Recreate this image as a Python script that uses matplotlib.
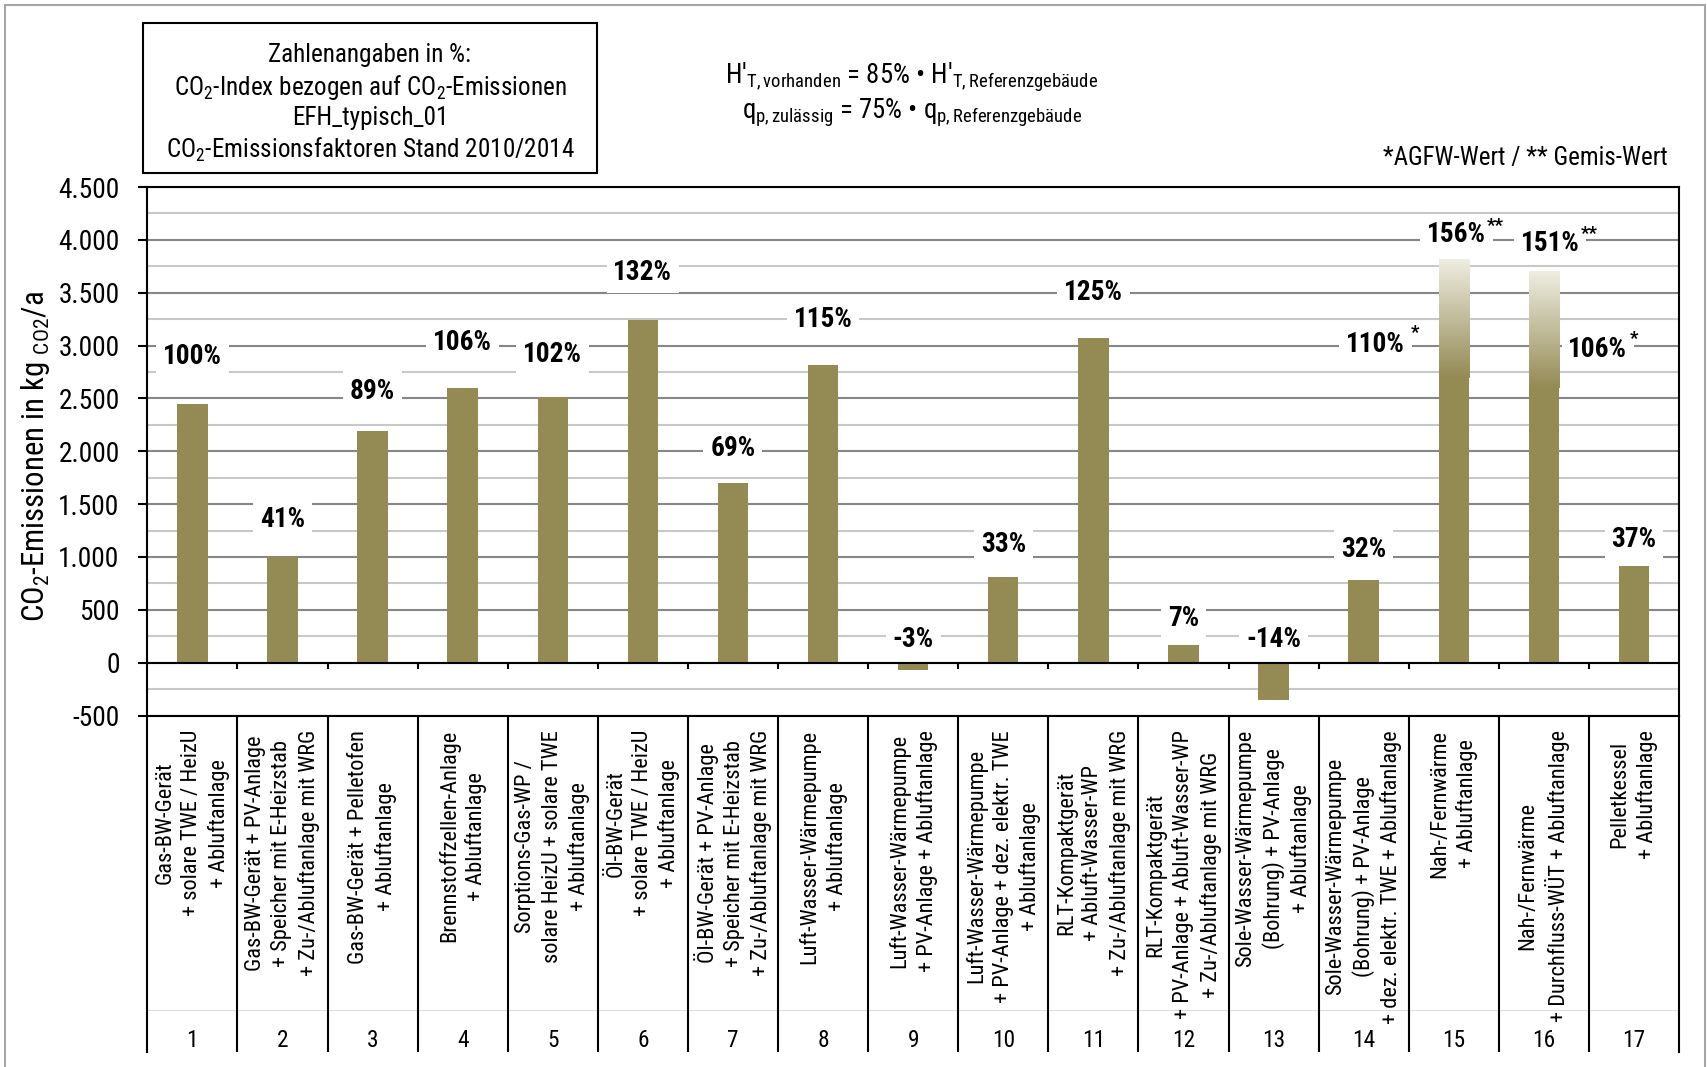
import numpy as np
import matplotlib.pyplot as plt
from matplotlib import font_manager
from matplotlib.colors import LinearSegmentedColormap
from matplotlib.font_manager import FontProperties
from matplotlib.patches import Rectangle
from matplotlib.textpath import TextToPath

# --- data -------------------------------------------------------------
categories = [
    "Gas-BW-Gerät\n+ solare TWE / HeizU\n+ Abluftanlage",
    "Gas-BW-Gerät + PV-Anlage\n+ Speicher mit E-Heizstab\n+ Zu-/Abluftanlage mit WRG",
    "Gas-BW-Gerät + Pelletofen\n+ Abluftanlage",
    "Brennstoffzellen-Anlage\n+ Abluftanlage",
    "Sorptions-Gas-WP /\nsolare HeizU + solare TWE\n+ Abluftanlage",
    "Öl-BW-Gerät\n+ solare TWE / HeizU\n+ Abluftanlage",
    "Öl-BW-Gerät + PV-Anlage\n+ Speicher mit E-Heizstab\n+ Zu-/Abluftanlage mit WRG",
    "Luft-Wasser-Wärmepumpe\n+ Abluftanlage",
    "Luft-Wasser-Wärmepumpe\n+ PV-Anlage + Abluftanlage",
    "Luft-Wasser-Wärmepumpe\n+ PV-Anlage + dez. elektr. TWE\n+ Abluftanlage",
    "RLT-Kompaktgerät\n+ Abluft-Wasser-WP\n+ Zu-/Abluftanlage mit WRG",
    "RLT-Kompaktgerät\n+ PV-Anlage + Abluft-Wasser-WP\n+ Zu-/Abluftanlage mit WRG",
    "Sole-Wasser-Wärmepumpe\n(Bohrung) + PV-Anlage\n+ Abluftanlage",
    "Sole-Wasser-Wärmepumpe\n(Bohrung) + PV-Anlage\n+ dez. elektr. TWE + Abluftanlage",
    "Nah-/Fernwärme\n+ Abluftanlage",
    "Nah-/Fernwärme\n+ Durchfluss-WÜT + Abluftanlage",
    "Pelletkessel\n+ Abluftanlage",
]
case_numbers = [str(i) for i in range(1, 18)]

# CO2 emissions in kg/a (Gemis values for district heating variants)
emissions = [2450, 1000, 2190, 2600, 2510, 3240, 1700, 2820, -70,
             810, 3070, 165, -350, 780, 3820, 3700, 915]
# AGFW values for the district heating variants (case 15 and 16)
agfw_cases = [15, 16]
agfw_emissions = [2695, 2600]

# where the percentage labels sit (data units)
label_y = [2925, 1380, 2595, 3060, 2945, 3720, 2050, 3275, 252,
           1145, 3530, 443, 245, 1100, 4076, 3997, 1190]
label_x_shift = {15: 0.03, 16: 0.07}
agfw_label_x = [14.13, 16.60]
agfw_label_y = [3043, 2988]
agfw_star_dx = [0.44, 0.40]

yticks = list(range(-500, 4501, 500))

# --- fonts ------------------------------------------------------------
available = {f.name for f in font_manager.fontManager.ttflist}
FONT = next((n for n in ["Roboto Condensed", "Liberation Sans Narrow", "Archivo Narrow",
                         "Liberation Sans"] if n in available), "DejaVu Sans")

# shrink sizes if the chosen face runs wider than a narrow Arial
sample = "Gas-BW-Gerät + Speicher mit E-Heizstab 100%"
ttp = TextToPath()
w_font = ttp.get_text_width_height_descent(sample, FontProperties(family=FONT, size=100), False)[0]
w_ref = ttp.get_text_width_height_descent(sample, FontProperties(family="Liberation Sans", size=100), False)[0]
SCALE = min(1.0, 0.82 * w_ref / w_font)


def fs(size):
    return size * SCALE


plt.rcParams["font.family"] = [FONT, "DejaVu Sans"]
plt.rcParams["mathtext.fontset"] = "custom"
plt.rcParams["mathtext.rm"] = FONT
plt.rcParams["mathtext.it"] = FONT
plt.rcParams["mathtext.bf"] = FONT + ":bold"

BAR = "#948A54"
LIGHT = "#EEEDE2"
W, H = 1708, 1067


def px_rect(x0, y0, x1, y1):
    return [x0 / W, 1 - y1 / H, (x1 - x0) / W, (y1 - y0) / H]


fig = plt.figure(figsize=(W / 100, H / 100), dpi=100)
ax = fig.add_axes(px_rect(147.3, 187, 1679, 715.5))
ax2 = fig.add_axes(px_rect(147.3, 715.5, 1679, 1052))

x = np.arange(1, len(emissions) + 1)
bar_w = 0.337

# --- bars -------------------------------------------------------------
solid = list(emissions)
for case, low in zip(agfw_cases, agfw_emissions):
    solid[case - 1] = low
ax.bar(x, solid, width=bar_w, color=BAR, zorder=2)

# upper part of the district heating bars fades out (Gemis above AGFW)
fade = LinearSegmentedColormap.from_list("fade", [BAR, LIGHT])
grad = np.linspace(0, 1, 256).reshape(-1, 1)
for case, low in zip(agfw_cases, agfw_emissions):
    ax.imshow(grad, extent=(case - bar_w / 2, case + bar_w / 2, low, emissions[case - 1]),
              origin="lower", cmap=fade, aspect="auto", interpolation="bicubic", zorder=2)

ax.set_xlim(0.5, len(emissions) + 0.5)
ax.set_ylim(-500, 4500)

# --- axes, grid -------------------------------------------------------
ax.set_yticks(yticks)
ax.set_yticklabels([f"{v:,}".replace(",", ".") for v in yticks])
ax.set_yticks(np.arange(-250, 4500, 500), minor=True)
ax.tick_params(axis="y", which="major", labelsize=fs(20.5), length=6.5, width=1.5, pad=13.5)
ax.tick_params(axis="y", which="minor", length=0)
ax.set_xticks([])
ax.set_axisbelow(True)
ax.grid(axis="y", which="major", color="#868686", lw=1.5)
ax.grid(axis="y", which="minor", color="#C8C8C8", lw=1.5)
for sp in ax.spines.values():
    sp.set_linewidth(1.5)
    sp.set_color("black")

ax.axhline(0, color="black", lw=1.5, zorder=3)
bounds = np.arange(1.5, len(emissions), 1.0)
ax.vlines(bounds, -63, 0, color="black", lw=1.5, zorder=3)

ax.set_ylabel(r"CO$_2$-Emissionen in kg $_{\mathrm{CO2}}$/a", fontsize=fs(23))
ax.yaxis.set_label_coords(-0.0625, 0.491)

# --- percentage labels ------------------------------------------------
base = emissions[0]
lbl_box = dict(facecolor="white", edgecolor="none", pad=5)
for i, v in enumerate(emissions):
    case = i + 1
    pct = round(v / base * 100)
    ax.text(case + label_x_shift.get(case, 0), label_y[i], f"{pct}%", ha="center",
            va="center_baseline", fontsize=fs(20.5), fontweight="bold", bbox=lbl_box, zorder=4)
    if case in agfw_cases:
        ax.text(case + label_x_shift[case] + 0.43, label_y[i] + 55, "**", ha="center",
                va="center", fontsize=fs(14), fontweight="bold", zorder=5)

for j, (lx, ly) in enumerate(zip(agfw_label_x, agfw_label_y)):
    pct = round(agfw_emissions[j] / base * 100)
    ax.text(lx, ly, f"{pct}%", ha="center", va="center_baseline", fontsize=fs(20.5),
            fontweight="bold", bbox=lbl_box, zorder=4)
    ax.text(lx + agfw_star_dx[j], ly + 75, "*", ha="center", va="center", fontsize=fs(14),
            fontweight="bold", zorder=5)

# --- category table below the plot ------------------------------------
ax2.set_xlim(0.5, len(emissions) + 0.5)
ax2.set_ylim(0, 1)
ax2.set_xticks([])
ax2.set_yticks([])
ax2.patch.set_alpha(0)
for side in ("top", "bottom"):
    ax2.spines[side].set_visible(False)
for side in ("left", "right"):
    ax2.spines[side].set_linewidth(1.5)
    ax2.spines[side].set_color("black")
ax2.vlines(bounds, 0, 1, color="black", lw=1.5)
ax2.axhline(0.125, color="#DDDDDD", lw=0.8, zorder=0)
for xi, name, num in zip(x, categories, case_numbers):
    ax2.text(xi, 0.957, name, rotation=90, ha="center", va="top",
             multialignment="center", fontsize=fs(16.8), linespacing=1.33)
    ax2.text(xi, 0.042, num, ha="center", va="center_baseline", fontsize=fs(17.5))

# --- header texts -----------------------------------------------------
fig.add_artist(Rectangle((142.9 / W, 1 - 173.3 / H), 454 / W, 150 / H,
                         transform=fig.transFigure, fill=False,
                         edgecolor="black", lw=1.5))
box_lines = [
    "Zahlenangaben in %:",
    r"CO$_2$-Index bezogen auf CO$_2$-Emissionen",
    "EFH_typisch_01",
    r"CO$_2$-Emissionsfaktoren Stand 2010/2014",
]
for line, yp in zip(box_lines, [52.3, 83.9, 115.5, 147.0]):
    fig.text(369.9 / W, 1 - yp / H, line, ha="center", va="center_baseline", fontsize=fs(18.8))

fig.text(912 / W, 1 - 83.3 / H,
         r"H'$_{\mathrm{T,vorhanden}}$ = 85% • H'$_{\mathrm{T,Referenzgebäude}}$",
         ha="center", va="baseline", fontsize=fs(20))
fig.text(912 / W, 1 - 118.3 / H,
         r"q$_{\mathrm{p,zulässig}}$ = 75% • q$_{\mathrm{p,Referenzgebäude}}$",
         ha="center", va="baseline", fontsize=fs(20))
fig.text(1668 / W, 1 - 165 / H, "*AGFW-Wert / ** Gemis-Wert",
         ha="right", va="baseline", fontsize=fs(18.6))

# outer frame
fig.add_artist(Rectangle((5 / W, -0.01), 1700 / W, 1062 / H + 0.01,
                         transform=fig.transFigure, fill=False,
                         edgecolor="#A6A6A6", lw=1.5))

fig.savefig("out.png", dpi=100)
